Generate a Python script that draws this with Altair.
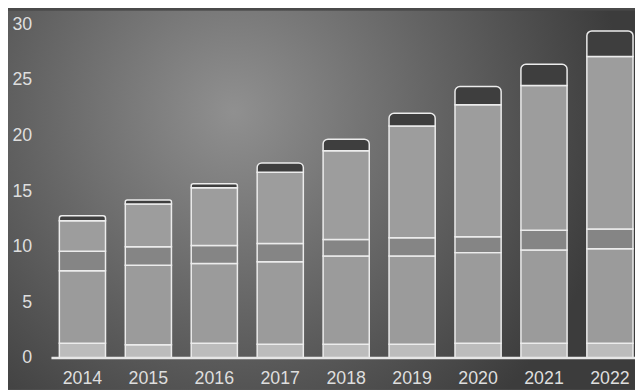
import altair as alt
import pandas as pd

years = ["2014", "2015", "2016", "2017", "2018", "2019", "2020", "2021", "2022"]
seg_a = [1.33, 1.18, 1.33, 1.24, 1.24, 1.24, 1.33, 1.33, 1.33]
seg_b = [6.52, 7.16, 7.16, 7.40, 7.93, 7.93, 8.14, 8.37, 8.49]
seg_c = [1.75, 1.66, 1.61, 1.66, 1.48, 1.63, 1.43, 1.78, 1.78]
seg_d = [2.73, 3.84, 5.20, 6.40, 7.98, 10.05, 11.87, 13.02, 15.50]
seg_e = [0.45, 0.36, 0.37, 0.83, 1.04, 1.15, 1.63, 1.90, 2.30]

segments = ["A", "B", "C", "D", "E"]
seg_colors = ["#bcbcbc", "#9b9b9b", "#858585", "#9d9d9d", "#3e3e3e"]
y_ticks = [0, 5, 10, 15, 20, 25, 30]

rows = []
for i, yr in enumerate(years):
    base = 0.0
    for s, vals in zip(segments, [seg_a, seg_b, seg_c, seg_d, seg_e]):
        rows.append({"year": yr, "seg": s, "y0": base, "y1": base + vals[i]})
        base += vals[i]
df = pd.DataFrame(rows)

W, H = 585, 338

xenc = alt.X("year:N", sort=years,
             scale=alt.Scale(paddingInner=0.3, paddingOuter=0.03),
             axis=alt.Axis(title=None, labelAngle=0, domain=False, ticks=False, zindex=2,
                           labelPadding=12, labelFontSize=18, labelColor="#dedede",
                           labelFont="Liberation Sans"))
yenc = alt.Y("y0:Q", scale=alt.Scale(domain=[0, 30], nice=False),
             axis=alt.Axis(title=None, values=y_ticks, grid=False, domain=False, ticks=False,
                           zindex=2, labelPadding=26, labelFontSize=18, labelColor="#dedede",
                           labelFont="Liberation Sans"))
color = alt.Color("seg:N", scale=alt.Scale(domain=segments, range=seg_colors), legend=None)

bg = alt.Chart(pd.DataFrame({"k": [0]})).mark_rect(
    fill=alt.RadialGradient(
        gradient="radial", x1=0.36, y1=0.36, r1=0, x2=0.36, y2=0.36, r2=0.62,
        stops=[alt.GradientStop(offset=0, color="#909090"),
               alt.GradientStop(offset=0.45, color="#6a6a6a"),
               alt.GradientStop(offset=1, color="#3c3c3c")]),
).encode(x=alt.value(-50), x2=alt.value(W), y=alt.value(-14), y2=alt.value(H + 32))

base = alt.Chart(df)
lower = base.transform_filter(alt.datum.seg != "E").mark_bar(
    stroke="#ececec", strokeWidth=1.5
).encode(x=xenc, y=yenc, y2="y1:Q", color=color)
top = base.transform_filter(alt.datum.seg == "E").mark_bar(
    stroke="#ececec", strokeWidth=1.5, cornerRadiusTopLeft=5, cornerRadiusTopRight=5
).encode(x=xenc, y=yenc, y2="y1:Q", color=color)

baseline = alt.Chart(pd.DataFrame({"k": [0]})).mark_rule(
    color="#e6e6e6", strokeWidth=2.5
).encode(y=alt.datum(0, type="quantitative"), x=alt.value(-6), x2=alt.value(W))

chart = alt.layer(bg, lower, top, baseline).properties(
    width=W, height=H,
    autosize=alt.AutoSizeParams(type="none"),
    padding={"left": 50, "top": 14, "right": 0, "bottom": 30},
    background="#4a4a4a",
).configure_view(stroke=None)

chart.save("out.html", embed_options={"renderer": "svg", "actions": False})
